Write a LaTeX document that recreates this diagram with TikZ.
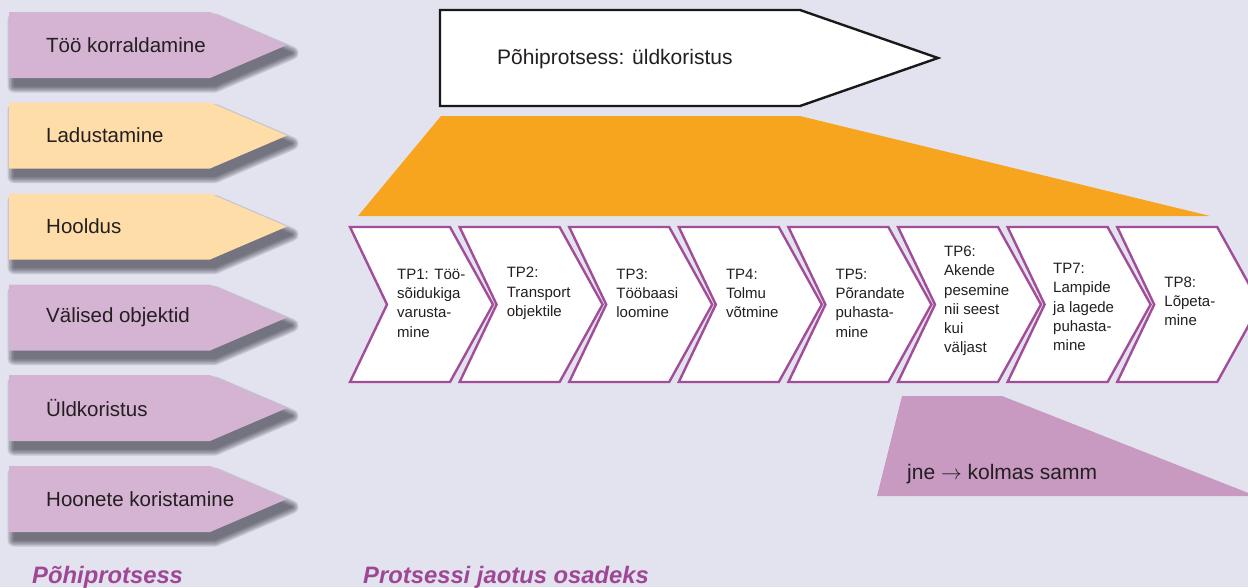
\documentclass[tikz,border=0pt]{standalone}
\usepackage{fontspec}
\setmainfont{Liberation Sans}
\definecolor{bg}{HTML}{E3E3EF}
\definecolor{pinkbox}{HTML}{D5B3D2}
\definecolor{peachbox}{HTML}{FFDDA9}
\definecolor{orangeT}{HTML}{F7A51F}
\definecolor{chevline}{HTML}{A24D98}
\definecolor{lowtrap}{HTML}{C899C1}
\definecolor{headc}{HTML}{9E4895}
\definecolor{txt}{HTML}{231F20}
\definecolor{shadowc}{HTML}{2E2E3C}
\tikzset{
  shadowlayer/.style={fill=shadowc, draw=shadowc, line join=round, line width=#1},
  lbl/.style={anchor=west, inner sep=0pt, text=txt, font=\fontsize{20.5}{24}\selectfont},
  chev/.style={fill=white, draw=chevline, line width=2.4pt, line join=miter},
  chevtxt/.style={anchor=west, inner sep=0pt, align=left, text=txt, font=\fontsize{15}{19.3}\selectfont},
  heading/.style={anchor=base west, inner sep=0pt, text=headc, font=\fontsize{23.8}{28}\selectfont\bfseries\itshape}
}
\begin{document}
\begin{tikzpicture}[x=1pt,y=-1pt]
\useasboundingbox (0,0) rectangle (1248,587);
\fill[bg] (0,0) rectangle (1248,587);
\clip (0,0) rectangle (1248,587);

% left arrows
\foreach \t/\c/\n/\lab in {12/pinkbox/a1/Töö korraldamine, 102.5/peachbox/a2/Ladustamine, 193.5/peachbox/a3/Hooldus, 284.5/pinkbox/a4/Välised objektid, 375/pinkbox/a5/Üldkoristus, 466/pinkbox/a6/Hoonete koristamine}{
  \foreach \w in {13,10,7,4,1}{
    \begin{scope}[transparency group, opacity=0.17]
      \filldraw[shadowlayer=\w pt] (14,\t+8) -- (215,\t+8) -- (292,\t+41) -- (215,\t+74) -- (14,\t+74) -- cycle;
    \end{scope}
  }
  \fill[\c] (9,\t) -- (210,\t) -- (287,\t+33) -- (210,\t+66) -- (9,\t+66) -- cycle;
  \node[lbl] (\n) at (46,\t+33) {\lab};
}

% top arrow
\draw[fill=white, draw=black!90, line width=2.4pt] (440,10) -- (800,10) -- (938,58) -- (800,106) -- (440,106) -- cycle;
\node[lbl, font=\fontsize{21}{24}\selectfont] (main) at (497,59) {Põhiprotsess: üldkoristus};

% orange trapezoid
\fill[orangeT] (441,116) -- (800,116) -- (1210,216) -- (358,216) -- cycle;

% chevrons
\foreach \i in {0,...,7}{
  \pgfmathsetmacro{\L}{350+109.6*\i}
  \draw[chev] (\L,227) -- (\L+100,227) -- (\L+143,304.5) -- (\L+100,382) -- (\L,382) -- (\L+37,304.5) -- cycle;
}
\node[chevtxt] (tp1) at (397,303) {TP1: Töö-\\sõidukiga\\varusta-\\mine};
\node[chevtxt] (tp2) at (506.6,293.5) {TP2:\\Transport\\objektile};
\node[chevtxt] (tp3) at (616.2,293.5) {TP3:\\Tööbaasi\\loomine};
\node[chevtxt] (tp4) at (725.8,293.5) {TP4:\\Tolmu\\võtmine};
\node[chevtxt] (tp5) at (835.4,303) {TP5:\\Põrandate\\puhasta-\\mine};
\node[chevtxt] (tp6) at (944,301) {TP6:\\Akende\\pesemine\\nii seest\\kui\\väljast};
\node[chevtxt] (tp7) at (1053,307) {TP7:\\Lampide\\ja lagede\\puhasta-\\mine};
\node[chevtxt] (tp8) at (1164.2,301.5) {TP8:\\Lõpeta-\\mine};

% lower trapezoid
\fill[lowtrap] (902,396) -- (1002,396) -- (1256,496) -- (877,496) -- cycle;
\node[lbl, font=\fontsize{21}{24}\selectfont] (jne) at (907,474) {jne \(\rightarrow\) kolmas samm};

% headings
\node[heading] (h1) at (32,583) {Põhiprotsess};
\node[heading] (h2) at (363,583) {Protsessi jaotus osadeks};
\end{tikzpicture}
\end{document}
